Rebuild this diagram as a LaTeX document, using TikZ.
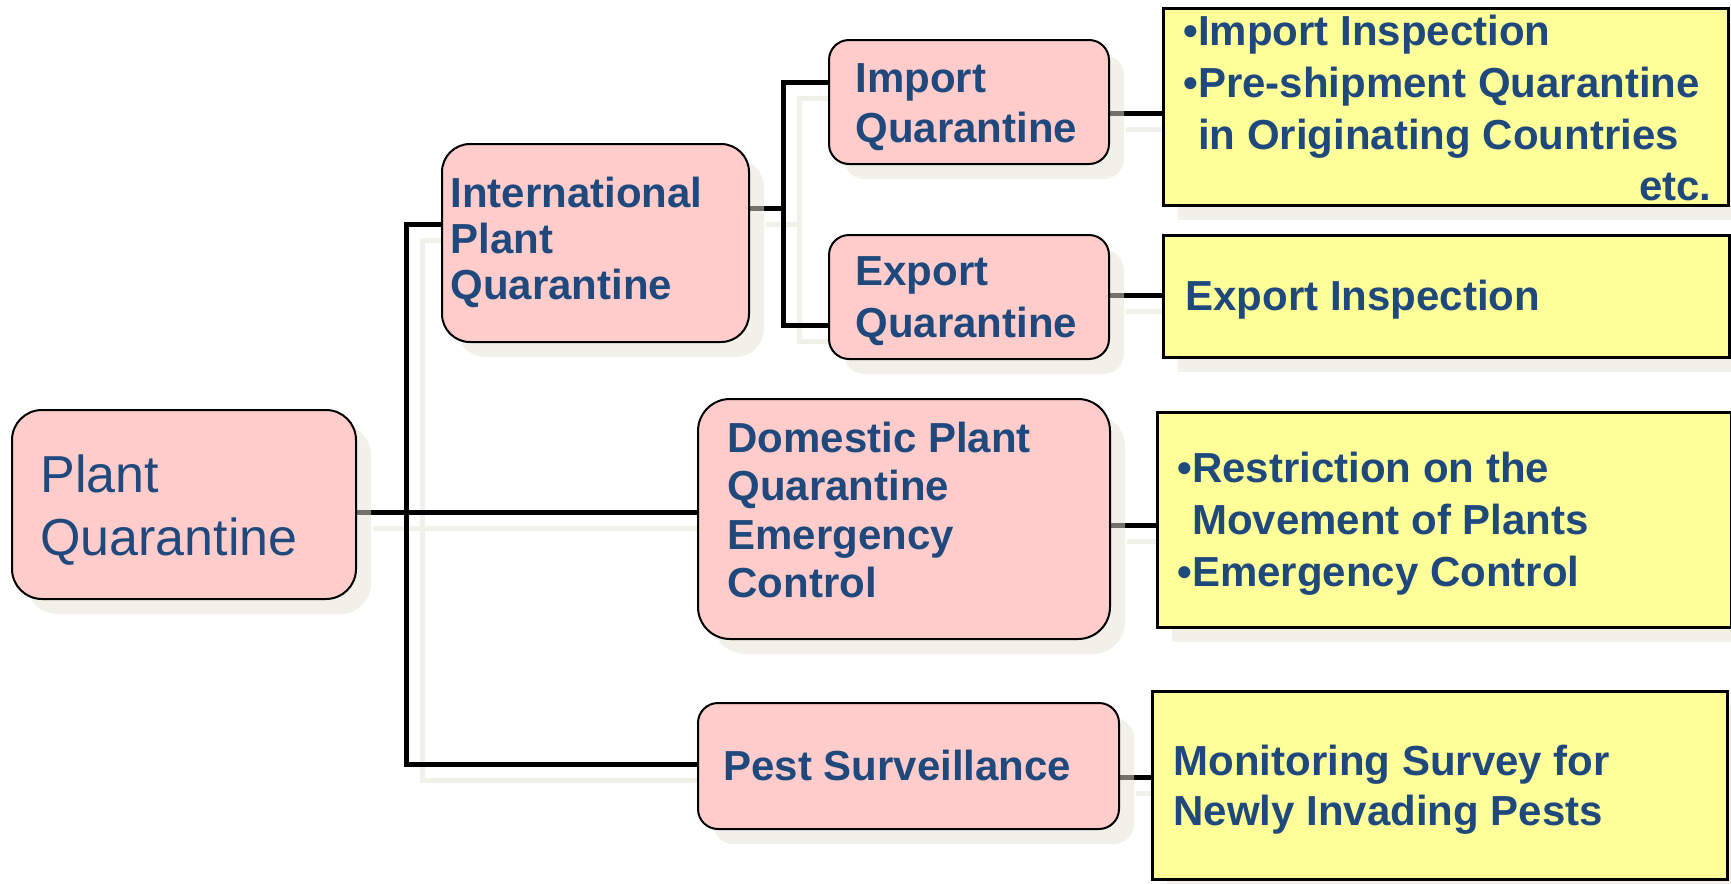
\documentclass[tikz,border=0pt]{standalone}
\usepackage{fontspec}
\setmainfont{Liberation Sans}
\usetikzlibrary{shadows}
\definecolor{pinkfill}{HTML}{FFCCCC}
\definecolor{yelfill}{HTML}{FFFF99}
\definecolor{txtblue}{HTML}{1F497D}
\definecolor{shadowc}{HTML}{E4E4D6}
\definecolor{lineshadow}{HTML}{F1F1EA}
\pgfdeclarelayer{bgbg}
\pgfdeclarelayer{bg}
\pgfsetlayers{bgbg,bg,main}
\newcommand{\bst}{\rule{0pt}{16pt}}
\tikzset{
  boxshadow/.style={drop shadow={shadow xshift=7.5pt, shadow yshift=-7.5pt, fill=shadowc, opacity=0.5}},
  pinkbox/.style={draw=black, line width=1pt, fill=pinkfill, anchor=north west, inner sep=0pt, boxshadow},
  yelbox/.style={draw=black, line width=1.3pt, fill=yelfill, anchor=north west, inner sep=0pt, boxshadow},
  boldtxt/.style={anchor=north west, inner sep=0pt, align=left, text=txtblue, font=\fontsize{21}{#1}\selectfont\bfseries},
  regtxt/.style={anchor=north west, inner sep=0pt, align=left, text=txtblue, font=\fontsize{26}{#1}\selectfont},
  conn/.style={line width=2.5pt, line join=miter},
}
\newcommand{\myconnectors}[1]{%
  \draw[conn,#1] (intl.west |- jtop) -- (jtop) -- (jbot) -- (pest.west |- jbot);
  \draw[conn,#1] (plant.east |- jmid) -- (domestic.west |- jmid);
  \draw[conn,#1] (intl.east |- isp) -- (isp);
  \draw[conn,#1] (import.west |- itop) -- (itop) -- (ibot) -- (export.west |- ibot);
  \draw[conn,#1] (import.east |- c1) -- (ya.west |- c1);
  \draw[conn,#1] (export.east |- c2) -- (yb.west |- c2);
  \draw[conn,#1] (domestic.east |- c3) -- (yc.west |- c3);
  \draw[conn,#1] (pest.east |- c4) -- (yd.west |- c4);
}
\begin{document}
\begin{tikzpicture}[x=0.5pt, y=-0.5pt]
\useasboundingbox (0,0) rectangle (1731,884);

% boxes
\node[pinkbox, minimum width=172pt, minimum height=94.5pt, rounded corners=15pt] (plant) at (11,409) {};
\node[pinkbox, minimum width=153.5pt, minimum height=99pt, rounded corners=14pt] (intl) at (441,143) {};
\node[pinkbox, minimum width=140pt, minimum height=62pt, rounded corners=10pt] (import) at (828,39) {};
\node[pinkbox, minimum width=140pt, minimum height=62pt, rounded corners=10pt] (export) at (828,234) {};
\node[pinkbox, minimum width=206pt, minimum height=120pt, rounded corners=16pt] (domestic) at (697,398) {};
\node[pinkbox, minimum width=210.5pt, minimum height=63pt, rounded corners=10pt] (pest) at (697,702) {};
\node[yelbox, minimum width=282.5pt, minimum height=98.5pt] (ya) at (1162,7) {};
\node[yelbox, minimum width=283pt, minimum height=61pt] (yb) at (1162,234) {};
\node[yelbox, minimum width=287pt, minimum height=107.5pt] (yc) at (1156,411) {};
\node[yelbox, minimum width=287.5pt, minimum height=94pt] (yd) at (1151,690) {};

% junction coordinates
\coordinate (jtop) at (406,224);
\coordinate (jmid) at (406,512);
\coordinate (jbot) at (406,764);
\coordinate (isp) at (783,208);
\coordinate (itop) at (783,82);
\coordinate (ibot) at (783,325);
\coordinate (c1) at (1135,113);
\coordinate (c2) at (1135,295);
\coordinate (c3) at (1130,525);
\coordinate (c4) at (1135,777);

\begin{pgfonlayer}{bgbg}
  \begin{scope}[transform canvas={shift={(8pt,-8pt)}}]
    \myconnectors{draw=lineshadow}
  \end{scope}
\end{pgfonlayer}
\begin{pgfonlayer}{bg}
  \myconnectors{draw=black}
\end{pgfonlayer}

% texts
\node[regtxt=31.5pt] (plantT) at (40,452) {\rule{0pt}{20pt}Plant\\Quarantine};
\node[boldtxt=23pt] (intlT) at (450,175) {\bst International\\Plant\\Quarantine};
\node[boldtxt=25pt] (importT) at (855,60) {\bst Import\\Quarantine};
\node[boldtxt=26pt] (exportT) at (855,253) {\bst Export\\Quarantine};
\node[boldtxt=24.2pt] (domesticT) at (727,420) {\bst Domestic Plant\\Quarantine\\Emergency\\Control};
\node[boldtxt=25pt] (pestT) at (723,748) {\bst Pest Surveillance};
\node[boldtxt=26pt] (yaT) at (1183,13) {\bst •Import Inspection\\•Pre-shipment Quarantine\\\phantom{•}in Originating Countries};
\node[boldtxt=25pt, anchor=base east] (etcT) at (1712,200) {etc.};
\node[boldtxt=25pt] (ybT) at (1185,278) {\bst Export Inspection};
\node[boldtxt=26pt] (ycT) at (1177,450) {\bst •Restriction on the\\\phantom{•}Movement of Plants\\•Emergency Control};
\node[boldtxt=25pt] (ydT) at (1173,743) {\bst Monitoring Survey for\\Newly Invading Pests};
\end{tikzpicture}
\end{document}
